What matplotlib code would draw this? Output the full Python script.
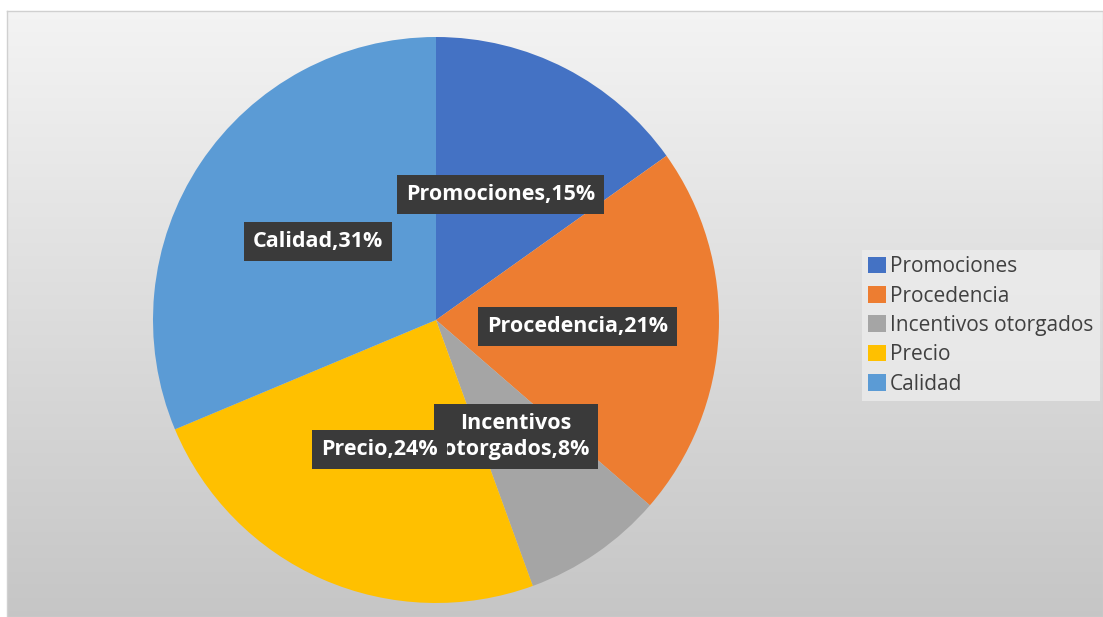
import matplotlib.pyplot as plt
import numpy as np

categories = ['Promociones', 'Procedencia', 'Incentivos otorgados', 'Precio', 'Calidad']
box_labels = ['Promociones', 'Procedencia', 'Incentivos\notorgados', 'Precio', 'Calidad']
percentages = [15, 21, 8, 24, 31]
colors = ['#4472c4', '#ed7d31', '#a5a5a5', '#ffc000', '#5b9bd5']

W, H = 1103, 617
fig = plt.figure(figsize=(W / 100, H / 100), dpi=100)
fig.patch.set_facecolor('white')

# gradient background of the chart area
bg = fig.add_axes([0, 0, 1, 1])
bg.set_xlim(0, W)
bg.set_ylim(H, 0)
bg.axis('off')
grad = np.linspace(0, 1, 256).reshape(-1, 1)
top = np.array([0.955, 0.955, 0.955])
bottom = np.array([0.775, 0.775, 0.775])
img = top + grad[..., None] * (bottom - top)
bg.imshow(img, extent=[7, W, H, 11], aspect='auto', zorder=0)
bg.plot([7, W, W, 7, 7], [11, 11, H, H, 11], color='#d0d0d0', lw=1, zorder=1)

# pie
cx, cy, r = 436, 320, 283
ax = fig.add_axes([(cx - r) / W, (H - cy - r) / H, 2 * r / W, 2 * r / H])
wedges, _ = ax.pie(percentages, colors=colors, startangle=90, counterclock=False,
                   wedgeprops=dict(linewidth=0))
ax.set_xlim(-1, 1)
ax.set_ylim(-1, 1)
ax.set_aspect('equal')

for w, lab, pct in zip(wedges, box_labels, percentages):
    mid = np.deg2rad((w.theta1 + w.theta2) / 2)
    x, y = 0.5 * np.cos(mid), 0.5 * np.sin(mid)
    ax.text(x, y, f'{lab},{pct}%', ha='center', va='center', color='white',
            fontsize=15.5, fontweight='bold', family='Open Sans', linespacing=1.3,
            bbox=dict(boxstyle='square,pad=0.42', facecolor='#3a3a3a', edgecolor='none'))

leg = fig.legend(wedges, categories, loc='upper left', bbox_to_anchor=(862 / W, 1 - 250 / H),
                 frameon=True, fancybox=False, prop={'family': 'Open Sans', 'size': 15},
                 handlelength=0.85, handleheight=0.85, handletextpad=0.2,
                 labelspacing=0.4, borderpad=0.3, borderaxespad=0)
leg.get_frame().set_facecolor('#ececec')
leg.get_frame().set_edgecolor('none')
leg.get_frame().set_alpha(0.8)
for t in leg.get_texts():
    t.set_color('#404040')

fig.savefig('out.png', dpi=100)
